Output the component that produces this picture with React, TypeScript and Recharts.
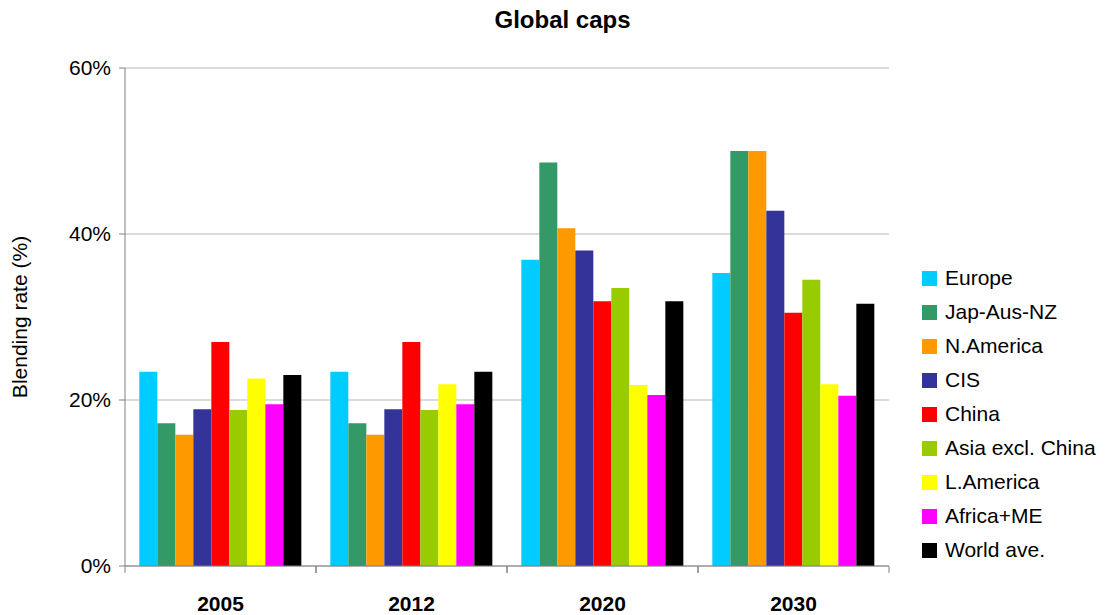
import React from "react";
import { BarChart, Bar, XAxis, YAxis, CartesianGrid } from "recharts";

const years = ["2005", "2012", "2020", "2030"];
const seriesNames = ["Europe", "Jap-Aus-NZ", "N.America", "CIS", "China", "Asia excl. China", "L.America", "Africa+ME", "World ave."];
const seriesColors = ["#00CCFF", "#339966", "#FF9900", "#333399", "#FF0000", "#99CC00", "#FFFF00", "#FF00FF", "#000000"];
const europe = [23.4, 23.4, 36.9, 35.3];
const japAusNz = [17.2, 17.2, 48.6, 50.0];
const nAmerica = [15.8, 15.8, 40.7, 50.0];
const cis = [18.9, 18.9, 38.0, 42.8];
const china = [27.0, 27.0, 31.9, 30.5];
const asiaExclChina = [18.8, 18.8, 33.5, 34.5];
const lAmerica = [22.6, 21.9, 21.8, 21.9];
const africaMe = [19.5, 19.5, 20.6, 20.5];
const worldAve = [23.0, 23.4, 31.9, 31.6];
const yTicks = [0, 20, 40, 60];

const seriesValues = [europe, japAusNz, nAmerica, cis, china, asiaExclChina, lAmerica, africaMe, worldAve];
const data = years.map((y, i) => {
  const row: Record<string, string | number> = { year: y };
  seriesNames.forEach((n, k) => { row[n] = seriesValues[k][i]; });
  return row;
});

const W = 1105, H = 615;
const X_H = 49;
const M = { top: 68, right: 216, bottom: 0, left: 0 };
const Y_W = 125;
const bandW = (W - M.left - M.right - Y_W) / years.length;
const AXIS_Y = H - X_H;
const FONT = "Liberation Sans, Arial, sans-serif";

const XTick = (props: any) => {
  const { x, payload } = props;
  return (
    <g>
      <line x1={x - bandW / 2} x2={x - bandW / 2} y1={AXIS_Y} y2={AXIS_Y + 7} stroke="#808080" />
      <line x1={x + bandW / 2} x2={x + bandW / 2} y1={AXIS_Y} y2={AXIS_Y + 7} stroke="#808080" />
      <text x={x} y={AXIS_Y + 45} textAnchor="middle" fontFamily={FONT} fontSize={21} fontWeight="bold" fill="#000">
        {payload.value}
      </text>
    </g>
  );
};

const LegendBox = () => (
  <div style={{ position: "absolute", left: 922, top: 261, fontFamily: FONT, fontSize: 21, color: "#000" }}>
    {seriesNames.map((n, i) => (
      <div key={n} style={{ display: "flex", alignItems: "center", height: 34, whiteSpace: "nowrap" }}>
        <div style={{ width: 15, height: 15, background: seriesColors[i], marginRight: 8 }} />
        <span>{n}</span>
      </div>
    ))}
  </div>
);

export default function App() {
  return (
    <div style={{ position: "absolute", left: 0, top: 0, width: W, height: H, background: "#fff" }}>
      <div style={{ position: "absolute", left: 0, top: 6, width: W, textAlign: "center", fontFamily: FONT, fontSize: 24, fontWeight: "bold", paddingLeft: 20, boxSizing: "border-box" }}>
        Global caps
      </div>
      <BarChart width={W} height={H} data={data} margin={M} barCategoryGap="7.5%" barGap={0}>
        <CartesianGrid vertical={false} stroke="#cfcfcf" strokeWidth={1.5} />
        <XAxis
          dataKey="year"
          tick={<XTick />}
          tickLine={false}
          axisLine={{ stroke: "#808080" }}
          interval={0}
          height={X_H}
        />
        <YAxis
          width={Y_W}
          domain={[0, 60]}
          ticks={yTicks}
          tickFormatter={(v: number) => `${v}%`}
          tick={{ fontFamily: FONT, fontSize: 21, fill: "#000" }}
          tickSize={6}
          tickMargin={8}
          axisLine={{ stroke: "#808080" }}
          tickLine={{ stroke: "#808080" }}
          label={{ value: "Blending rate (%)", angle: -90, position: "insideLeft", offset: 20, style: { fontFamily: FONT, fontSize: 21, fill: "#000", textAnchor: "middle" } }}
        />
        {seriesNames.map((n, i) => (
          <Bar key={n} dataKey={n} fill={seriesColors[i]} isAnimationActive={false} />
        ))}
      </BarChart>
      <LegendBox />
    </div>
  );
}
